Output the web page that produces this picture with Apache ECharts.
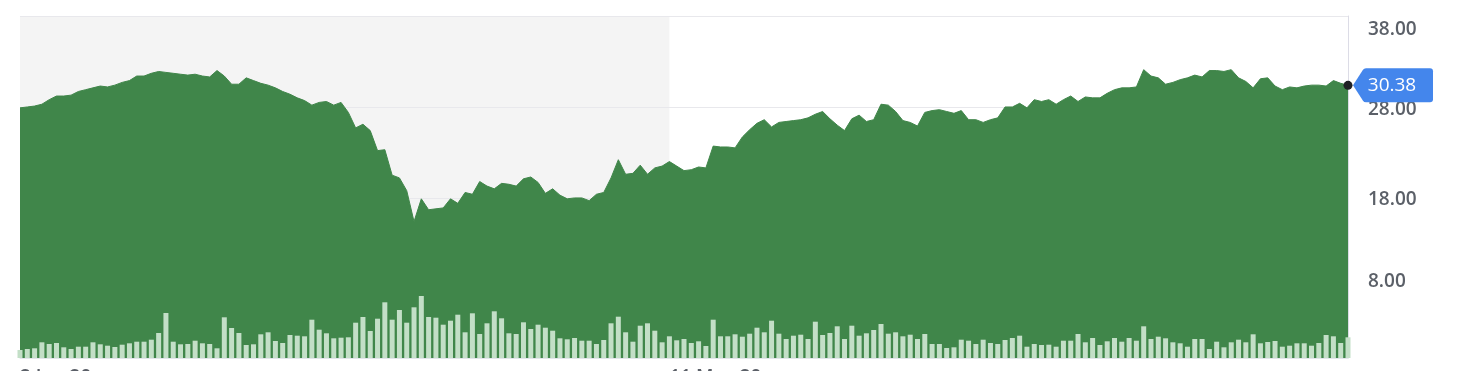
<!DOCTYPE html>
<html>
<head>
<meta charset="utf-8">
<script src="https://cdn.jsdelivr.net/npm/echarts@6/dist/echarts.min.js"></script>
<style>
  html, body { margin: 0; padding: 0; background: #ffffff; }
  #chart { width: 1464px; height: 371px; }
</style>
</head>
<body>
<div id="chart"></div>
<script>
// ---- data ----
const startDate = '2020-01-02';
const holidays = ['2020-01-20', '2020-02-17', '2020-04-10', '2020-05-25', '2020-07-03', '2020-09-07'];
const pointCount = 183;

const prices = [
  27.9, 28.0, 28.1, 28.3, 28.8, 29.2, 29.2, 29.3, 29.7, 29.9,
  30.1, 30.3, 30.2, 30.4, 30.7, 30.9, 31.4, 31.4, 31.7, 31.9,
  31.8, 31.7, 31.6, 31.5, 31.6, 31.4, 31.3, 32.0, 31.4, 30.5,
  30.5, 31.2, 30.9, 30.6, 30.4, 30.1, 29.7, 29.4, 29.0, 28.7,
  28.2, 28.5, 28.6, 28.2, 28.5, 27.4, 25.7, 26.1, 25.4, 23.2,
  23.3, 20.5, 20.2, 18.8, 15.4, 17.9, 16.7, 16.8, 16.9, 17.9,
  17.4, 18.6, 18.4, 19.8, 19.3, 19.0, 19.6, 19.5, 19.3, 20.1,
  20.3, 19.7, 18.5, 19.0, 18.3, 17.9, 18.0, 18.0, 17.7, 18.4,
  18.6, 20.2, 22.2, 20.6, 20.7, 21.6, 20.6, 21.3, 21.5, 22.0,
  21.5, 21.0, 21.1, 21.4, 21.3, 23.7, 23.6, 23.6, 23.5, 24.7,
  25.5, 26.2, 26.6, 25.8, 26.3, 26.4, 26.5, 26.6, 26.8, 27.2,
  27.5, 26.7, 26.0, 25.4, 26.7, 27.1, 26.4, 26.6, 28.3, 28.2,
  27.5, 26.5, 26.3, 25.9, 27.4, 27.6, 27.7, 27.5, 27.3, 27.6,
  26.6, 26.6, 26.3, 26.6, 26.8, 28.0, 28.0, 28.4, 27.9, 28.8,
  28.6, 28.8, 28.3, 28.8, 29.2, 28.6, 29.1, 29.0, 29.0, 29.5,
  29.9, 30.1, 30.1, 30.2, 32.1, 31.4, 31.2, 30.5, 30.7, 31.0,
  31.2, 31.5, 31.3, 32.0, 32.0, 31.9, 32.1, 31.2, 30.8, 30.1,
  31.1, 31.2, 30.3, 29.9, 30.2, 30.1, 30.3, 30.4, 30.4, 30.3,
  30.9, 30.6, 30.38
];

// relative volume (arbitrary units)
const volumes = [
  8, 9, 9.7, 15.7, 14, 15, 10.7, 9, 11.3, 11.3,
  15.7, 13.7, 12.3, 11, 13.3, 14.7, 16.3, 16.3, 18.3, 25,
  45, 16.3, 13.7, 14, 17.3, 14.7, 14, 9.7, 40.7, 30,
  25, 13, 13.7, 23.7, 25.7, 17, 15, 23, 22.3, 21.7,
  38.3, 28.3, 24.7, 19.7, 20.3, 20.7, 35.3, 41, 27, 39.3,
  55.7, 38.3, 48, 35.3, 50.7, 62, 41, 40.3, 33.3, 37.3,
  43.3, 25.7, 44.7, 24, 34.7, 46.7, 39.7, 24.7, 24, 35.7,
  29, 33.3, 30.3, 27.3, 19.7, 18.7, 20, 17.3, 17.3, 14,
  18, 34.7, 41.3, 25.7, 16.3, 32.3, 34.7, 27.3, 15.7, 21.7,
  17.7, 19, 15, 16.7, 12, 38.3, 21.7, 21.7, 23.7, 21.3,
  24.3, 30.3, 25.7, 37.3, 24.3, 19, 22.3, 23.3, 19, 36.3,
  23, 25, 31.7, 19, 32.3, 22.3, 24.7, 28, 34, 24.3,
  25.7, 21.7, 23.3, 19, 24, 14, 14, 10, 10.7, 18.3,
  17.3, 14, 18.3, 15, 14, 18, 20, 22.3, 11.3, 14,
  13, 13.3, 11.3, 17.3, 17.3, 24, 15.7, 20, 13, 16.7,
  20, 16.3, 20, 17.3, 31.7, 19, 21.3, 19.7, 15.7, 14.7,
  11.3, 19, 19, 9, 16.3, 10.7, 15.7, 18.3, 15.7, 23.7,
  14.7, 16, 17, 11.3, 12.3, 14.7, 14.7, 12.3, 15, 23,
  21.7, 15, 20.7
];

const priceTicks = [8, 18, 28, 38];
const gridValues = [18, 28, 38];
const labelledDates = ['2020-01-02', '2020-05-11'];
const shadeRange = ['2020-01-02', '2020-05-11'];

// ---- trading-day categories ----
function buildTradingDays(start, count, skip) {
  const out = [];
  const d = new Date(start + 'T00:00:00Z');
  while (out.length < count) {
    const day = d.getUTCDay();
    const iso = d.toISOString().slice(0, 10);
    if (day !== 0 && day !== 6 && skip.indexOf(iso) < 0) out.push(iso);
    d.setUTCDate(d.getUTCDate() + 1);
  }
  return out;
}
const categories = buildTradingDays(startDate, pointCount, holidays);
const monthNames = ['Jan','Feb','Mar','Apr','May','Jun','Jul','Aug','Sep','Oct','Nov','Dec'];
function fmtDate(iso) {
  const p = iso.split('-');
  return (+p[2]) + ' ' + monthNames[+p[1] - 1] + ' ' + p[0].slice(2);
}

const FONT = '"Open Sans", "Noto Sans", sans-serif';
const LABEL_COLOR = '#5b6068';
const GREEN = '#40864a';
const lastPrice = prices[prices.length - 1];
const lastCat = categories[categories.length - 1];

const labelShift = { 38: [28, 0, 0, 0], 28: [6, 0, 0, 0], 18: [4, 0, 0, 0], 8: [0, 0, 14, 0] };
const rich = {};
priceTicks.forEach(v => {
  rich['l' + v] = { fontSize: 19, fontWeight: 600, fontFamily: FONT, color: LABEL_COLOR, padding: labelShift[v] };
});

const chart = echarts.init(document.getElementById('chart'), null, { renderer: 'canvas' });
chart.setOption({
  animation: false,
  backgroundColor: '#ffffff',
  grid: { left: 20, right: 116, top: 16, bottom: 13, containLabel: false, outerBoundsMode: 'none' },
  xAxis: {
    type: 'category',
    data: categories,
    boundaryGap: false,
    axisLine: { show: true, lineStyle: { color: '#e3e6ec', width: 1 } },
    axisTick: { show: false },
    splitLine: { show: false },
    axisLabel: {
      interval: (idx, val) => labelledDates.indexOf(val) >= 0,
      formatter: v => fmtDate(v),
      align: 'left',
      margin: 10,
      fontSize: 19,
      fontWeight: 600,
      fontFamily: FONT,
      color: LABEL_COLOR
    }
  },
  yAxis: [
    {
      type: 'value',
      position: 'right',
      min: 0.4,
      max: 38,
      axisLine: { show: true, lineStyle: { color: '#dcdce6', width: 1 } },
      axisTick: { show: false },
      splitLine: { show: false },
      axisLabel: {
        customValues: priceTicks,
        margin: 20,
        formatter: v => '{l' + v + '|' + v.toFixed(2) + '}',
        rich: rich
      }
    },
    {
      type: 'value',
      min: 0,
      max: 342,
      show: false,
      splitLine: { show: false }
    }
  ],
  series: [
    {
      type: 'line',
      data: prices,
      yAxisIndex: 0,
      z: 3,
      showSymbol: false,
      symbol: 'none',
      smooth: false,
      lineStyle: { color: GREEN, width: 1 },
      areaStyle: { color: GREEN, opacity: 1, origin: 'start' },
      markArea: {
        silent: true,
        z: 1,
        itemStyle: { color: '#f4f4f4' },
        data: [[{ xAxis: shadeRange[0], yAxis: 38 }, { xAxis: shadeRange[1], yAxis: 0.4 }]]
      },
      markLine: {
        silent: true,
        z: 2,
        symbol: 'none',
        label: { show: false },
        lineStyle: { color: '#e8e8ec', width: 1, type: 'solid' },
        data: gridValues.map(v => ({ yAxis: v }))
      },
      markPoint: {
        silent: true,
        z: 6,
        data: [
          {
            coord: [lastCat, lastPrice],
            value: lastPrice,
            symbol: 'path://M0,17 L10,1.5 Q11,0 13,0 L77,0 Q80,0 80,3 L80,31 Q80,34 77,34 L13,34 Q11,34 10,32.5 Z',
            symbolSize: [80, 34],
            symbolOffset: [45, 0],
            symbolKeepAspect: false,
            itemStyle: { color: '#4486ec' },
            label: {
              show: true,
              position: 'inside',
              offset: [-1, 0],
              formatter: p => Number(p.value).toFixed(2),
              color: '#ffffff',
              fontSize: 19,
              fontWeight: 500,
              fontFamily: FONT
            }
          },
          {
            coord: [lastCat, lastPrice],
            value: lastPrice,
            symbol: 'circle',
            symbolSize: 9,
            itemStyle: { color: '#202124' },
            label: { show: false }
          }
        ]
      }
    },
    {
      type: 'bar',
      data: volumes,
      yAxisIndex: 1,
      z: 4,
      barWidth: 5,
      clip: true,
      itemStyle: { color: '#c3dfc7' }
    }
  ]
});
</script>
</body>
</html>
